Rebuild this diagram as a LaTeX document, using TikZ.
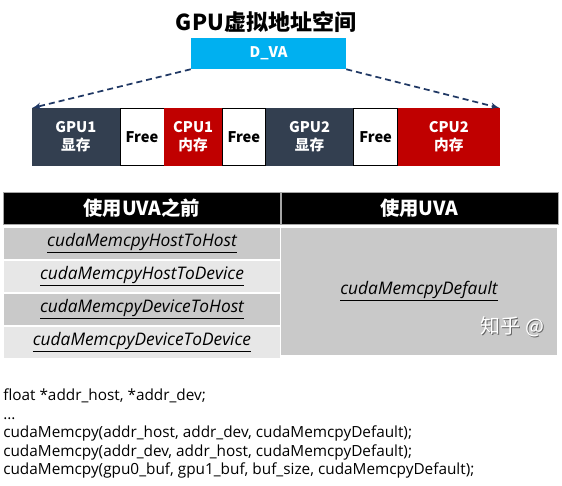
\documentclass[tikz,border=0pt]{standalone}
\usepackage{xcolor}
\usepackage{fontspec}
\setmainfont{Open Sans}
\newfontfamily\cjk{Noto Sans CJK SC}
\usetikzlibrary{arrows, positioning}

\definecolor{vacyan}{HTML}{00B0F0}
\definecolor{gpunavy}{HTML}{333F50}
\definecolor{cpured}{HTML}{C00000}
\definecolor{rowdark}{HTML}{C9C9C9}
\definecolor{rowlight}{HTML}{E7E7E7}
\definecolor{edgenavy}{HTML}{203864}

\begin{document}
\begin{tikzpicture}[x=0.75pt, y=-0.75pt]
    \tikzstyle{seg} = [rectangle, draw=gpunavy, line width=0.5pt, inner sep=0pt, minimum height=42.75pt, text=white, align=center, font=\cjk\bfseries\fontsize{11}{13.5}\selectfont]
    \tikzstyle{freeseg} = [seg, draw=black, fill=white, text=black]
    \tikzstyle{headcell} = [rectangle, draw=gray!70, fill=black, text=white, inner sep=0pt, minimum width=207.75pt, minimum height=24pt, font=\cjk\bfseries\fontsize{14.5}{16}\selectfont]
    \tikzstyle{rowcell} = [rectangle, draw=white, line width=0.75pt, inner sep=0pt, minimum width=207.75pt, minimum height=24pt, font=\itshape\fontsize{13}{15}\selectfont]
    \tikzstyle{vaedge} = [draw=edgenavy, line width=1.3pt, dash pattern=on 4.5pt off 3pt, -latex']

    \useasboundingbox (0,0) rectangle (562,486);

    % address space
    \node [font=\cjk\bfseries\fontsize{16.5}{18}\selectfont] (title) at (266,22) {GPU虚拟地址空间};
    \node [rectangle, fill=vacyan, text=white, inner sep=0pt, minimum width=116.25pt, minimum height=23.25pt, font=\cjk\bfseries\fontsize{11}{13}\selectfont] (dva) at (268.5,53.5) {D\_VA};

    \node [seg, fill=gpunavy, minimum width=65.25pt, anchor=north west] (gpu1) at (32,108) {GPU1\\显存};
    \node [freeseg, minimum width=33pt, right=0pt of gpu1] (free1) {Free};
    \node [seg, fill=cpured, draw=cpured, minimum width=42.75pt, right=0pt of free1] (cpu1) {CPU1\\内存};
    \node [freeseg, minimum width=32.25pt, right=0pt of cpu1] (free2) {Free};
    \node [seg, fill=gpunavy, minimum width=65.25pt, right=0pt of free2] (gpu2) {GPU2\\显存};
    \node [freeseg, minimum width=33pt, right=0pt of gpu2] (free3) {Free};
    \node [seg, fill=cpured, draw=cpured, minimum width=75.75pt, right=0pt of free3] (cpu2) {CPU2\\内存};

    \path [vaedge] (dva.south west) -- (gpu1.north west);
    \path [vaedge] (dva.south east) -- (cpu2.north east);

    % comparison table
    \node [headcell, anchor=north west] (hbefore) at (3,192) {使用UVA之前};
    \node [headcell, right=0pt of hbefore] (hafter) {使用UVA};

    \node [rowcell, fill=rowdark, anchor=north west] (hosthost) at (3,227) {\underline{cudaMemcpyHostToHost}};
    \node [rowcell, fill=rowlight, below=0pt of hosthost] (hostdev) {\underline{cudaMemcpyHostToDevice}};
    \node [rowcell, fill=rowdark, below=0pt of hostdev] (devhost) {\underline{cudaMemcpyDeviceToHost}};
    \node [rowcell, fill=rowlight, below=0pt of devhost] (devdev) {\underline{cudaMemcpyDeviceToDevice}};
    \node [rowcell, fill=rowdark, minimum height=96pt, anchor=north west] (default) at (280,227) {\underline{cudaMemcpyDefault}};

    \begin{scope}
        \clip (default.north west) rectangle (default.south east);
        \node [anchor=west, text=gray!80!black, font=\cjk\fontsize{15}{16}\selectfont] (markshadow) at (477.2,328.2) {知乎 @};
        \node [anchor=west, text=white, font=\cjk\fontsize{15}{16}\selectfont] (mark) at (476,327) {知乎 @};
    \end{scope}

    % code sample
    \node [anchor=north west, inner sep=0pt, align=left, font=\fontsize{11.5}{13.9}\selectfont] (code) at (3,388.5) {float *addr\_host, *addr\_dev;\\
        ...\\
        cudaMemcpy(addr\_host, addr\_dev, cudaMemcpyDefault);\\
        cudaMemcpy(addr\_dev, addr\_host, cudaMemcpyDefault);\\
        cudaMemcpy(gpu0\_buf, gpu1\_buf, buf\_size, cudaMemcpyDefault);};
\end{tikzpicture}
\end{document}
